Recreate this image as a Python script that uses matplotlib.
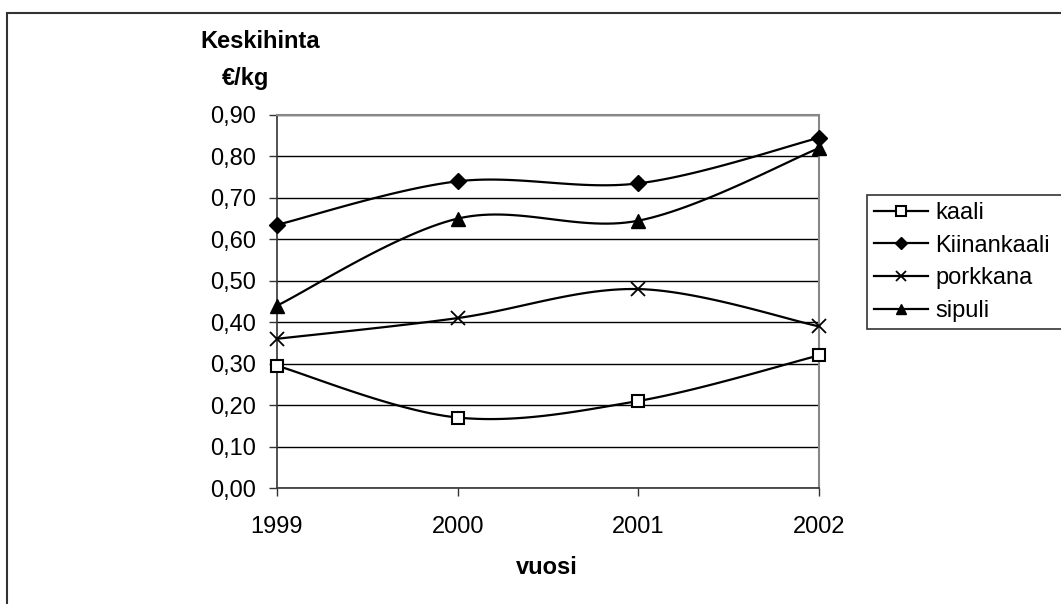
import numpy as np
import matplotlib
matplotlib.use('Agg')
import matplotlib.pyplot as plt
from matplotlib.patches import Rectangle

plt.rcParams['font.family'] = ['Liberation Sans', 'DejaVu Sans']

years = [1999, 2000, 2001, 2002]
kaali = [0.295, 0.17, 0.21, 0.32]
kiinankaali = [0.635, 0.74, 0.735, 0.845]
porkkana = [0.36, 0.41, 0.48, 0.39]
sipuli = [0.44, 0.65, 0.645, 0.82]
y_ticks = [0.0, 0.1, 0.2, 0.3, 0.4, 0.5, 0.6, 0.7, 0.8, 0.9]

series = [
	('kaali', kaali, dict(marker='s', markerfacecolor='white', markersize=9, markeredgewidth=1.5)),
	('Kiinankaali', kiinankaali, dict(marker='D', markersize=8)),
	('porkkana', porkkana, dict(marker='x', markersize=10, markeredgewidth=1.3)),
	('sipuli', sipuli, dict(marker='^', markersize=10)),
]


def smooth(xs, ys, steps=30):
	# excel style smoothed line: bezier segments with catmull-rom control points
	p = np.column_stack([xs, ys]).astype(float)
	p = np.vstack([p[0], p, p[-1]])
	t = np.linspace(0, 1, steps)[:, None]
	out = []
	for i in range(1, len(p) - 2):
		p0, p1 = p[i], p[i + 1]
		c1 = p0 + (p[i + 1] - p[i - 1]) / 6
		c2 = p1 - (p[i + 2] - p[i]) / 6
		seg = (1 - t) ** 3 * p0 + 3 * (1 - t) ** 2 * t * c1 + 3 * (1 - t) * t ** 2 * c2 + t ** 3 * p1
		out.append(seg if i == 1 else seg[1:])
	out = np.vstack(out)
	return out[:, 0], out[:, 1]


fig = plt.figure(figsize=(10.61, 6.04), dpi=100)
ax = fig.add_axes([277 / 1061, 1 - 488 / 604, 542 / 1061, 373 / 604])

handles = []
for name, vals, style in series:
	sx, sy = smooth(years, vals)
	ax.plot(sx, sy, color='black', linewidth=1.6, zorder=3, clip_on=False)
	ax.plot(years, vals, linestyle='none', color='black', zorder=4, clip_on=False, **style)
	h, = ax.plot([], [], color='black', linewidth=1.6, **style)
	handles.append(h)

ax.set_xlim(years[0], years[-1])
ax.set_ylim(0, 0.9)
ax.set_xticks(years)
ax.set_xticklabels([str(y) for y in years])
ax.set_yticks(y_ticks)
ax.set_yticklabels([('%.2f' % v).replace('.', ',') for v in y_ticks])
ax.grid(axis='y', color='black', linewidth=1)
ax.set_axisbelow(True)
ax.tick_params(axis='both', labelsize=17, length=6, width=1, color='#333333', direction='out')
ax.tick_params(axis='x', pad=14)
ax.tick_params(axis='y', pad=9)
for side in ['left', 'bottom']:
	ax.spines[side].set_color('#333333')
	ax.spines[side].set_linewidth(1.2)
for side in ['top', 'right']:
	ax.spines[side].set_color('#888888')
	ax.spines[side].set_linewidth(1.5)

fig.text(200 / 1061, 1 - 42 / 604, 'Keskihinta', fontsize=17, fontweight='bold', ha='left', va='center')
fig.text(222 / 1061, 1 - 78 / 604, '€/kg', fontsize=17, fontweight='bold', ha='left', va='center')
fig.text(547 / 1061, 1 - 568 / 604, 'vuosi', fontsize=17, fontweight='bold', ha='center', va='center')

leg = fig.legend(handles, [s[0] for s in series], loc='upper left',
	bbox_to_anchor=(867 / 1061, 1 - 195 / 604, 0.3, 0), mode='expand', borderaxespad=0,
	fontsize=17, frameon=True, fancybox=False, edgecolor='black', handlelength=2.3,
	handletextpad=0.3, labelspacing=0.45, borderpad=0.3, markerscale=0.75)
leg.get_frame().set_linewidth(1.2)

fig.patches.append(Rectangle((7 / 1061, -0.1), 1.2, 1.1 - 13 / 604, transform=fig.transFigure,
	fill=False, edgecolor='#333333', linewidth=1.5))

plt.savefig('out.png', dpi=100)
